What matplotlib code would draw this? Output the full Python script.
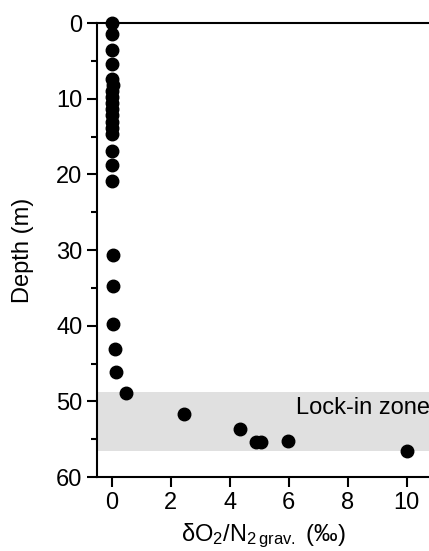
import matplotlib
matplotlib.use("Agg")
import matplotlib.pyplot as plt
from matplotlib.ticker import MultipleLocator

plt.rcParams['font.family'] = ['Liberation Sans', 'DejaVu Sans']

# d O2/N2 grav. (permil) vs depth (m)
depth = [0.0, 1.5, 3.5, 5.4, 7.4, 8.2, 9.0, 9.8, 10.6, 11.4, 12.2, 13.0, 13.8, 14.6,
         16.9, 18.7, 20.8, 30.7, 34.8, 39.7, 43.1, 46.1, 48.9, 51.7, 53.6, 55.3,
         55.3, 55.2, 56.6]
d_o2n2 = [0.0, 0.0, 0.0, 0.0, 0.0, 0.05, 0.0, 0.0, 0.0, 0.0, 0.0, 0.0, 0.0, 0.0,
          0.0, 0.0, 0.0, 0.05, 0.05, 0.05, 0.1, 0.14, 0.5, 2.45, 4.36, 4.88,
          5.07, 5.98, 10.0]

# lock-in zone depth range
lockin_top = 48.8
lockin_bottom = 56.6

fig = plt.figure(figsize=(4.29, 5.51), dpi=100)
ax = fig.add_axes([0.226, 0.134, 0.774, 0.824])

ax.axhspan(lockin_top, lockin_bottom, color='#e0e0e0', lw=0, zorder=0)
ax.text(10.78, 50.9, "Lock-in zone", ha='right', va='center', fontsize=17)

ax.plot(d_o2n2, depth, 'o', color='black', ms=9, zorder=3, clip_on=False)

ax.set_xlim(-0.5, 10.75)
ax.set_ylim(60, 0)
ax.xaxis.set_major_locator(MultipleLocator(2))
ax.yaxis.set_major_locator(MultipleLocator(10))
ax.yaxis.set_minor_locator(MultipleLocator(5))

ax.spines['right'].set_visible(False)
for s in ['left', 'bottom', 'top']:
    ax.spines[s].set_linewidth(1.5)

ax.tick_params(axis='both', which='major', direction='out', length=7, width=1.5,
               labelsize=17)
ax.tick_params(axis='y', which='minor', direction='out', length=4, width=1.5)
ax.tick_params(top=False)

ax.set_ylabel("Depth (m)", fontsize=17, labelpad=16)
ax.set_xlabel(r"$\mathregular{\delta O_2/N_{2\,grav.}}$ (‰)", fontsize=17, labelpad=6)

fig.savefig("out.png", dpi=100)
